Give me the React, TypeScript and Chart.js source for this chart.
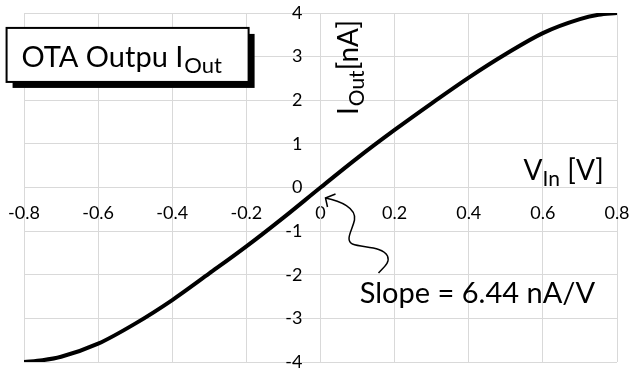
import React, { useEffect, useRef } from 'react';
import { Chart, registerables } from 'chart.js';
Chart.register(...registerables);

// V_In [V]
const vIn = [-0.8, -0.75, -0.7, -0.6, -0.5, -0.4, -0.3, -0.2, -0.1, 0, 0.1, 0.2, 0.3, 0.4, 0.5, 0.6, 0.7, 0.75, 0.8];
// I_Out [nA]
const iOut = [-4.0, -3.96, -3.88, -3.58, -3.12, -2.58, -1.97, -1.35, -0.69, 0, 0.68, 1.32, 1.93, 2.52, 3.06, 3.54, 3.86, 3.96, 4.0];

const xTickStep = 0.2;
const yTickStep = 1;
const titleText = 'OTA Outpu I';
const titleSub = 'Out';
const yTitleMain = 'I';
const yTitleSub = 'Out';
const yTitleRest = '[nA]';
const xTitleMain = 'V';
const xTitleSub = 'In';
const xTitleRest = ' [V]';
const slopeText = 'Slope = 6.44 nA/V';

// annotation anchor positions in data coordinates
const titleBox = { x0: -0.847, x1: -0.194, y0: 3.658, y1: 2.42 };
const titleAnchor = { x: -0.807, y: 2.76 };
const yTitleAnchor = { x: 0.1, y: 1.66 };
const xTitleAnchor = { x: 0.548, y: 0.172 };
const slopeAnchor = { x: 0.106, y: -2.65 };
const arrowPath = [
  [0.0135, -0.241],
  [0.054, -0.31], [0.0971, -0.47], [0.0917, -0.745],
  [0.0863, -0.975], [0.0648, -1.204], [0.0863, -1.296],
  [0.1133, -1.388], [0.1673, -1.342], [0.1808, -1.571],
  [0.1889, -1.732], [0.1673, -1.846], [0.1565, -1.961],
];
const arrowHead = [[0.0405, -0.149], [0.0189, -0.447]];

const FONT = 'Lato, "Open Sans", sans-serif';
const Y_LABEL_GAP = 18;

const annotPlugin = {
  id: 'annot',
  beforeDraw(chart: any) {
    const ys = chart.scales.y;
    const items = ys.getLabelItems(chart.chartArea);
    if (!ys._shifted || ys._shifted !== items) {
      items.forEach((it: any) => {
        it.options.translation[0] -= Y_LABEL_GAP;
      });
      ys._shifted = items;
    }
  },
  afterDraw(chart: any) {
    const { ctx } = chart;
    const xs = chart.scales.x;
    const ys = chart.scales.y;
    const px = (v: number) => xs.getPixelForValue(v);
    const py = (v: number) => ys.getPixelForValue(v);
    ctx.save();
    // title box
    const l = px(titleBox.x0), r = px(titleBox.x1), t = py(titleBox.y0), b = py(titleBox.y1);
    ctx.fillStyle = '#000';
    ctx.fillRect(l + 6, t + 6, r - l, b - t);
    ctx.fillStyle = '#fff';
    ctx.fillRect(l, t, r - l, b - t);
    ctx.lineWidth = 2;
    ctx.strokeStyle = '#000';
    ctx.strokeRect(l, t, r - l, b - t);
    ctx.fillStyle = '#000';
    ctx.textBaseline = 'alphabetic';
    ctx.textAlign = 'left';
    ctx.font = `29px ${FONT}`;
    let tx = px(titleAnchor.x), ty = py(titleAnchor.y);
    ctx.fillText(titleText, tx, ty);
    let w = ctx.measureText(titleText).width;
    ctx.font = `22px ${FONT}`;
    ctx.fillText(titleSub, tx + w + 1, ty + 6);

    // y title rotated
    ctx.save();
    ctx.translate(px(yTitleAnchor.x), py(yTitleAnchor.y));
    ctx.rotate(-Math.PI / 2);
    ctx.font = `28px ${FONT}`;
    ctx.fillText(yTitleMain, 0, 0);
    w = ctx.measureText(yTitleMain).width;
    ctx.font = `21px ${FONT}`;
    ctx.fillText(yTitleSub, w + 1, 6);
    w += 1 + ctx.measureText(yTitleSub).width;
    ctx.font = `28px ${FONT}`;
    ctx.fillText(yTitleRest, w, 0);
    ctx.restore();

    // x title
    ctx.font = `28px ${FONT}`;
    tx = px(xTitleAnchor.x); ty = py(xTitleAnchor.y);
    ctx.fillText(xTitleMain, tx, ty);
    w = ctx.measureText(xTitleMain).width;
    ctx.font = `21px ${FONT}`;
    ctx.fillText(xTitleSub, tx + w, ty + 6);
    w += ctx.measureText(xTitleSub).width;
    ctx.font = `28px ${FONT}`;
    ctx.fillText(xTitleRest, tx + w, ty);

    // slope text
    ctx.font = `29px ${FONT}`;
    ctx.fillText(slopeText, px(slopeAnchor.x), py(slopeAnchor.y));

    // arrow
    ctx.lineWidth = 1.5;
    ctx.beginPath();
    ctx.moveTo(px(arrowPath[0][0]), py(arrowPath[0][1]));
    for (let i = 1; i + 2 < arrowPath.length; i += 3) {
      ctx.bezierCurveTo(
        px(arrowPath[i][0]), py(arrowPath[i][1]),
        px(arrowPath[i + 1][0]), py(arrowPath[i + 1][1]),
        px(arrowPath[i + 2][0]), py(arrowPath[i + 2][1])
      );
    }
    ctx.stroke();
    ctx.beginPath();
    ctx.moveTo(px(arrowHead[0][0]), py(arrowHead[0][1]));
    ctx.lineTo(px(arrowPath[0][0]), py(arrowPath[0][1]));
    ctx.lineTo(px(arrowHead[1][0]), py(arrowHead[1][1]));
    ctx.stroke();
    ctx.restore();
  },
};

const fmt = (v: number) => (Math.abs(v) < 1e-9 ? '0' : (Math.round(v * 10) / 10).toString());

export default function App() {
  const ref = useRef<HTMLCanvasElement>(null);
  useEffect(() => {
    document.body.style.margin = '0';
    const chart = new Chart(ref.current!, {
      type: 'scatter',
      data: {
        datasets: [
          {
            data: vIn.map((x, i) => ({ x, y: iOut[i] })),
            showLine: true,
            borderColor: '#000',
            borderWidth: 4,
            pointRadius: 0,
            cubicInterpolationMode: 'monotone',
            fill: false,
          },
        ],
      },
      options: {
        responsive: false,
        animation: false,
        layout: { padding: { left: 24, right: 13, top: 13, bottom: 11 } },
        plugins: { legend: { display: false }, tooltip: { enabled: false } },
        scales: {
          x: {
            type: 'linear',
            min: -0.8,
            max: 0.8,
            position: { y: 0 } as any,
            grid: { color: '#d9d9d9', lineWidth: 1, drawTicks: false },
            border: { color: '#d9d9d9' },
            afterFit: (s: any) => {
              s.paddingLeft = 0; s.paddingRight = 0; s.paddingTop = 0; s.paddingBottom = 0;
            },
            ticks: {
              stepSize: xTickStep,
              padding: 17,
              autoSkip: false,
              maxRotation: 0,
              color: '#000',
              font: { family: FONT, size: 18, lineHeight: 1 },
              callback: (v: any) => fmt(Number(v)),
            },
          },
          y: {
            type: 'linear',
            min: -4,
            max: 4,
            position: { x: 0 } as any,
            grid: { color: '#d9d9d9', lineWidth: 1, drawTicks: false },
            border: { color: '#d9d9d9' },
            afterFit: (s: any) => {
              s.paddingLeft = 0; s.paddingRight = 0; s.paddingTop = 0; s.paddingBottom = 0;
            },
            ticks: {
              stepSize: yTickStep,
              padding: 18,
              autoSkip: false,
              color: '#000',
              font: { family: FONT, size: 18, lineHeight: 1 },
              callback: (v: any) => fmt(Number(v)),
            },
          },
        },
      },
      plugins: [annotPlugin],
    } as any);
    return () => chart.destroy();
  }, []);
  return <canvas ref={ref} width={630} height={373} style={{ display: 'block' }} />;
}
